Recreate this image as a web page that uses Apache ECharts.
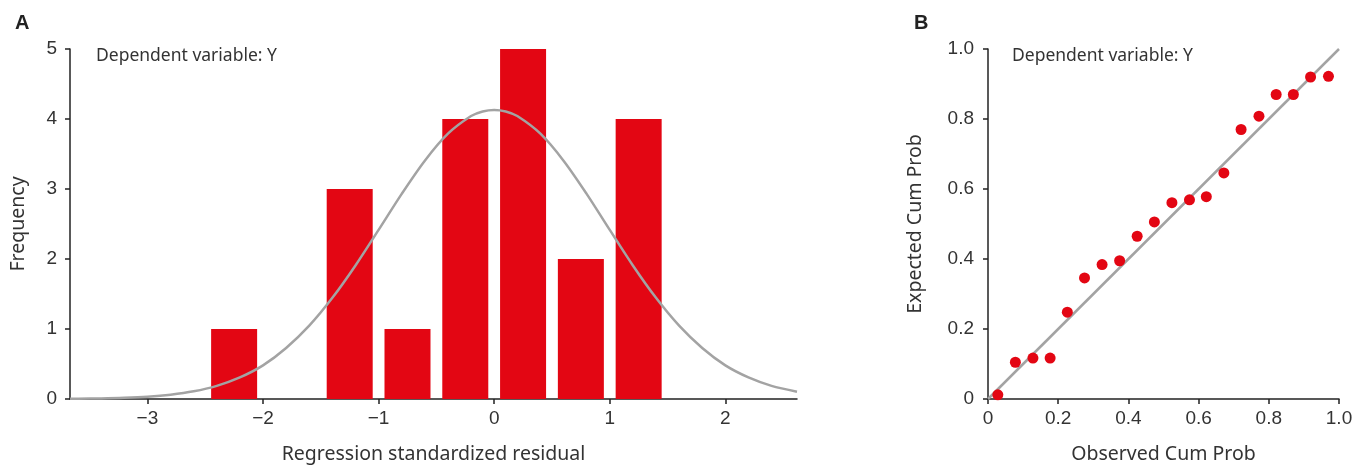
<!DOCTYPE html>
<html>
<head>
<meta charset="utf-8">
<script src="https://cdn.jsdelivr.net/npm/echarts@6/dist/echarts.min.js"></script>
<style>
html,body{margin:0;padding:0;background:#fff;}
#c{width:1367px;height:471px;}
</style>
</head>
<body>
<div id="c"></div>
<script>
// Panel A: histogram of regression standardized residuals
const binCenters = [-2.25, -1.75, -1.25, -0.75, -0.25, 0.25, 0.75, 1.25];
const frequencies = [1, 0, 3, 1, 4, 5, 2, 4];
// Fitted normal curve
const curveX = [-3.67, -3.6, -3.4, -3.2, -3.0, -2.8, -2.6, -2.4, -2.2, -2.0, -1.8, -1.6, -1.4, -1.2, -1.0, -0.8, -0.6, -0.4, -0.2, -0.1, 0.0, 0.1, 0.2, 0.4, 0.6, 0.8, 1.0, 1.2, 1.4, 1.6, 1.8, 2.0, 2.2, 2.4, 2.62];
const curveY = [0.003, 0.004, 0.008, 0.017, 0.033, 0.062, 0.110, 0.188, 0.308, 0.48, 0.728, 1.047, 1.445, 1.908, 2.416, 2.931, 3.405, 3.790, 4.042, 4.108, 4.13, 4.108, 4.042, 3.790, 3.405, 2.931, 2.416, 1.908, 1.445, 1.047, 0.728, 0.48, 0.308, 0.188, 0.105];
const histXTicks = [-3, -2, -1, 0, 1, 2];

// Panel B: normal P-P plot
const observedCum = [0.028, 0.078, 0.128, 0.177, 0.226, 0.275, 0.325, 0.375, 0.425, 0.474, 0.524, 0.574, 0.622, 0.672, 0.721, 0.772, 0.821, 0.870, 0.919, 0.970];
const expectedCum = [0.012, 0.105, 0.117, 0.117, 0.248, 0.346, 0.384, 0.395, 0.465, 0.506, 0.561, 0.569, 0.578, 0.646, 0.770, 0.808, 0.870, 0.870, 0.920, 0.922];
const refLineX = [0, 1];
const refLineY = [0, 1];

const RED = '#e30613';
const GRAY = '#a3a3a3';
const tickFont = {fontFamily: 'Liberation Sans', fontSize: 19, color: '#333'};
const nameFont = {fontFamily: 'Noto Sans', fontSize: 19.5, color: '#333'};
const axisLine = {show: true, onZero: false, lineStyle: {color: '#222', width: 1.5}};
const axisTick = {show: true, length: 5, lineStyle: {color: '#222', width: 1.5}};
const minus = v => String(v).replace('-', '\u2212');
const dec = v => v === 0 ? '0' : v.toFixed(1);

const chart = echarts.init(document.getElementById('c'), null, {renderer: 'canvas'});
chart.setOption({
  animation: false,
  backgroundColor: '#fff',
  title: [
    {text: 'A', left: 10, top: 8, textStyle: {fontFamily: 'Liberation Sans', fontWeight: 'bold', fontSize: 20, color: '#222'}},
    {text: 'B', left: 909, top: 8, textStyle: {fontFamily: 'Liberation Sans', fontWeight: 'bold', fontSize: 20, color: '#222'}}
  ],
  graphic: [
    {type: 'text', left: 96, top: 47, style: {text: 'Dependent variable: Y', fontFamily: 'Noto Sans', fontSize: 17.5, fill: '#333'}},
    {type: 'text', left: 1012, top: 47, style: {text: 'Dependent variable: Y', fontFamily: 'Noto Sans', fontSize: 17.5, fill: '#333'}}
  ],
  grid: [
    {left: 70, right: 570, top: 49, bottom: 72},
    {left: 988, right: 28, top: 49, bottom: 72}
  ],
  xAxis: [
    {
      type: 'value', gridIndex: 0, min: -3.67, max: 2.62,
      splitLine: {show: false}, axisLine: axisLine,
      axisTick: Object.assign({customValues: histXTicks}, axisTick),
      axisLabel: Object.assign({customValues: histXTicks, margin: 10, formatter: minus}, tickFont),
      name: 'Regression standardized residual', nameLocation: 'middle', nameGap: 45, nameTextStyle: nameFont
    },
    {
      type: 'value', gridIndex: 1, min: 0, max: 1, interval: 0.2,
      splitLine: {show: false}, axisLine: axisLine, axisTick: axisTick,
      axisLabel: Object.assign({margin: 10, formatter: dec}, tickFont),
      name: 'Observed Cum Prob', nameLocation: 'middle', nameGap: 45, nameTextStyle: nameFont
    }
  ],
  yAxis: [
    {
      type: 'value', gridIndex: 0, min: 0, max: 5, interval: 1,
      splitLine: {show: false}, axisLine: axisLine, axisTick: axisTick,
      axisLabel: Object.assign({margin: 13}, tickFont),
      name: 'Frequency', nameLocation: 'middle', nameGap: 42, nameTextStyle: nameFont
    },
    {
      type: 'value', gridIndex: 1, min: 0, max: 1, interval: 0.2,
      splitLine: {show: false}, axisLine: axisLine, axisTick: axisTick,
      axisLabel: Object.assign({margin: 14, formatter: dec}, tickFont),
      name: 'Expected Cum Prob', nameLocation: 'middle', nameGap: 63, nameTextStyle: nameFont
    }
  ],
  series: [
    {
      type: 'bar', xAxisIndex: 0, yAxisIndex: 0, barWidth: 46,
      itemStyle: {color: RED},
      data: binCenters.map((c, i) => [c, frequencies[i]]),
      z: 2
    },
    {
      type: 'line', xAxisIndex: 0, yAxisIndex: 0, smooth: 0.3, showSymbol: false,
      lineStyle: {color: GRAY, width: 2.5},
      data: curveX.map((x, i) => [x, curveY[i]]),
      z: 3
    },
    {
      type: 'line', xAxisIndex: 1, yAxisIndex: 1, showSymbol: false,
      lineStyle: {color: GRAY, width: 2.5},
      data: refLineX.map((x, i) => [x, refLineY[i]]),
      z: 2
    },
    {
      type: 'scatter', xAxisIndex: 1, yAxisIndex: 1, symbolSize: 11,
      itemStyle: {color: RED, opacity: 1},
      data: observedCum.map((x, i) => [x, expectedCum[i]]),
      z: 3
    }
  ]
});
</script>
</body>
</html>
